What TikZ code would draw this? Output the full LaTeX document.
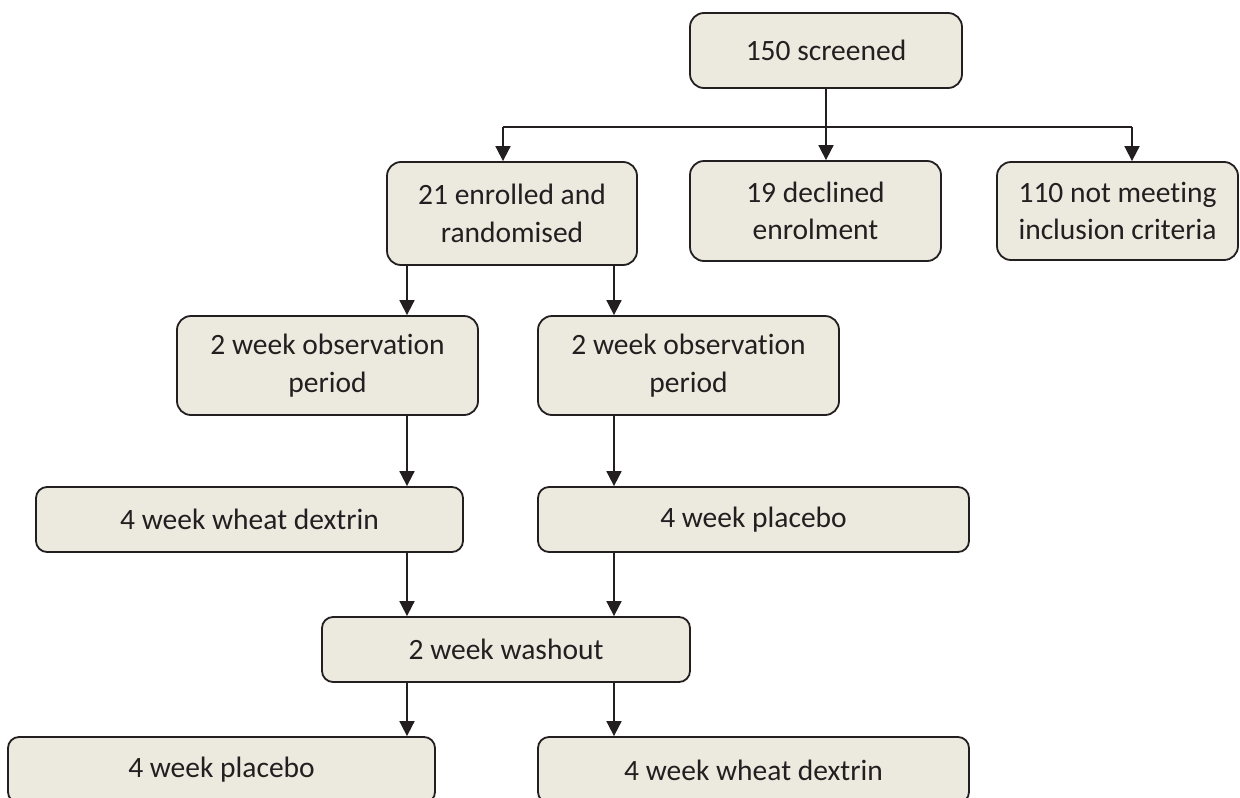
\documentclass[tikz,border=0pt]{standalone}
\usepackage{fontspec}
\setmainfont[Ligatures=NoCommon]{Carlito}
\usetikzlibrary{arrows.meta}
\definecolor{boxfill}{HTML}{ECE9DF}
\definecolor{ink}{HTML}{231F20}
\tikzset{
  box/.style={draw=ink, fill=boxfill, line width=1.8pt, rounded corners=#1,
    align=center, text=ink, inner sep=0pt,
    font=\fontsize{29.5}{37.5}\selectfont},
  box/.default=14pt,
  arr/.style={draw=ink, line width=1.8pt, -{Triangle[width=15pt,length=15pt]}},
  ln/.style={draw=ink, line width=1.8pt}
}
\begin{document}
\begin{tikzpicture}[x=1pt,y=-1pt]
\useasboundingbox (0,0) rectangle (1240,798);
\clip (0,0) rectangle (1240,798);
\node[box=14pt, minimum width=272pt, minimum height=75pt] (screened) at (826,50.5) {150 screened};
\node[box, minimum width=250pt, minimum height=103pt] (enrolled) at (512,213.5) {21 enrolled and\\randomised};
\node[box, minimum width=251pt, minimum height=100pt] (declined) at (815.5,211) {19 declined\\enrolment};
\node[box, minimum width=241pt, minimum height=98pt] (notmeet) at (1117.5,211) {110 not meeting\\inclusion criteria};
\node[box, minimum width=301pt, minimum height=99pt] (obsL) at (327.5,365.5) {2 week observation\\period};
\node[box, minimum width=301pt, minimum height=99pt] (obsR) at (688.5,365.5) {2 week observation\\period};
\node[box=11pt, minimum width=427pt, minimum height=65pt] (wheatA) at (249.5,519.5) {4 week wheat dextrin};
\node[box=11pt, minimum width=431pt, minimum height=65pt] (placeboA) at (753.5,519.5) {4 week placebo};
\node[box=11pt, minimum width=368pt, minimum height=65pt] (washout) at (506,649.5) {2 week washout};
\node[box=11pt, minimum width=427pt, minimum height=66pt] (placeboB) at (221.5,770) {4 week placebo};
\node[box=11pt, minimum width=431pt, minimum height=66pt] (wheatB) at (753.5,770) {4 week wheat dextrin};
\coordinate (hl) at (503,127);
\coordinate (hr) at (1132,127);
\coordinate (cL) at (407,0);
\coordinate (cR) at (614,0);
\draw[ln] (hl) -- (hr);
\draw[arr] (screened.south) -- (screened.south |- declined.north);
\draw[arr] (hl) -- (hl |- enrolled.north);
\draw[arr] (hr) -- (hr |- notmeet.north);
\draw[arr] (cL |- enrolled.south) -- (cL |- obsL.north);
\draw[arr] (cR |- enrolled.south) -- (cR |- obsR.north);
\draw[arr] (cL |- obsL.south) -- (cL |- wheatA.north);
\draw[arr] (cR |- obsR.south) -- (cR |- placeboA.north);
\draw[arr] (cL |- wheatA.south) -- (cL |- washout.north);
\draw[arr] (cR |- placeboA.south) -- (cR |- washout.north);
\draw[arr] (cL |- washout.south) -- (cL |- placeboB.north);
\draw[arr] (cR |- washout.south) -- (cR |- wheatB.north);
\end{tikzpicture}
\end{document}
